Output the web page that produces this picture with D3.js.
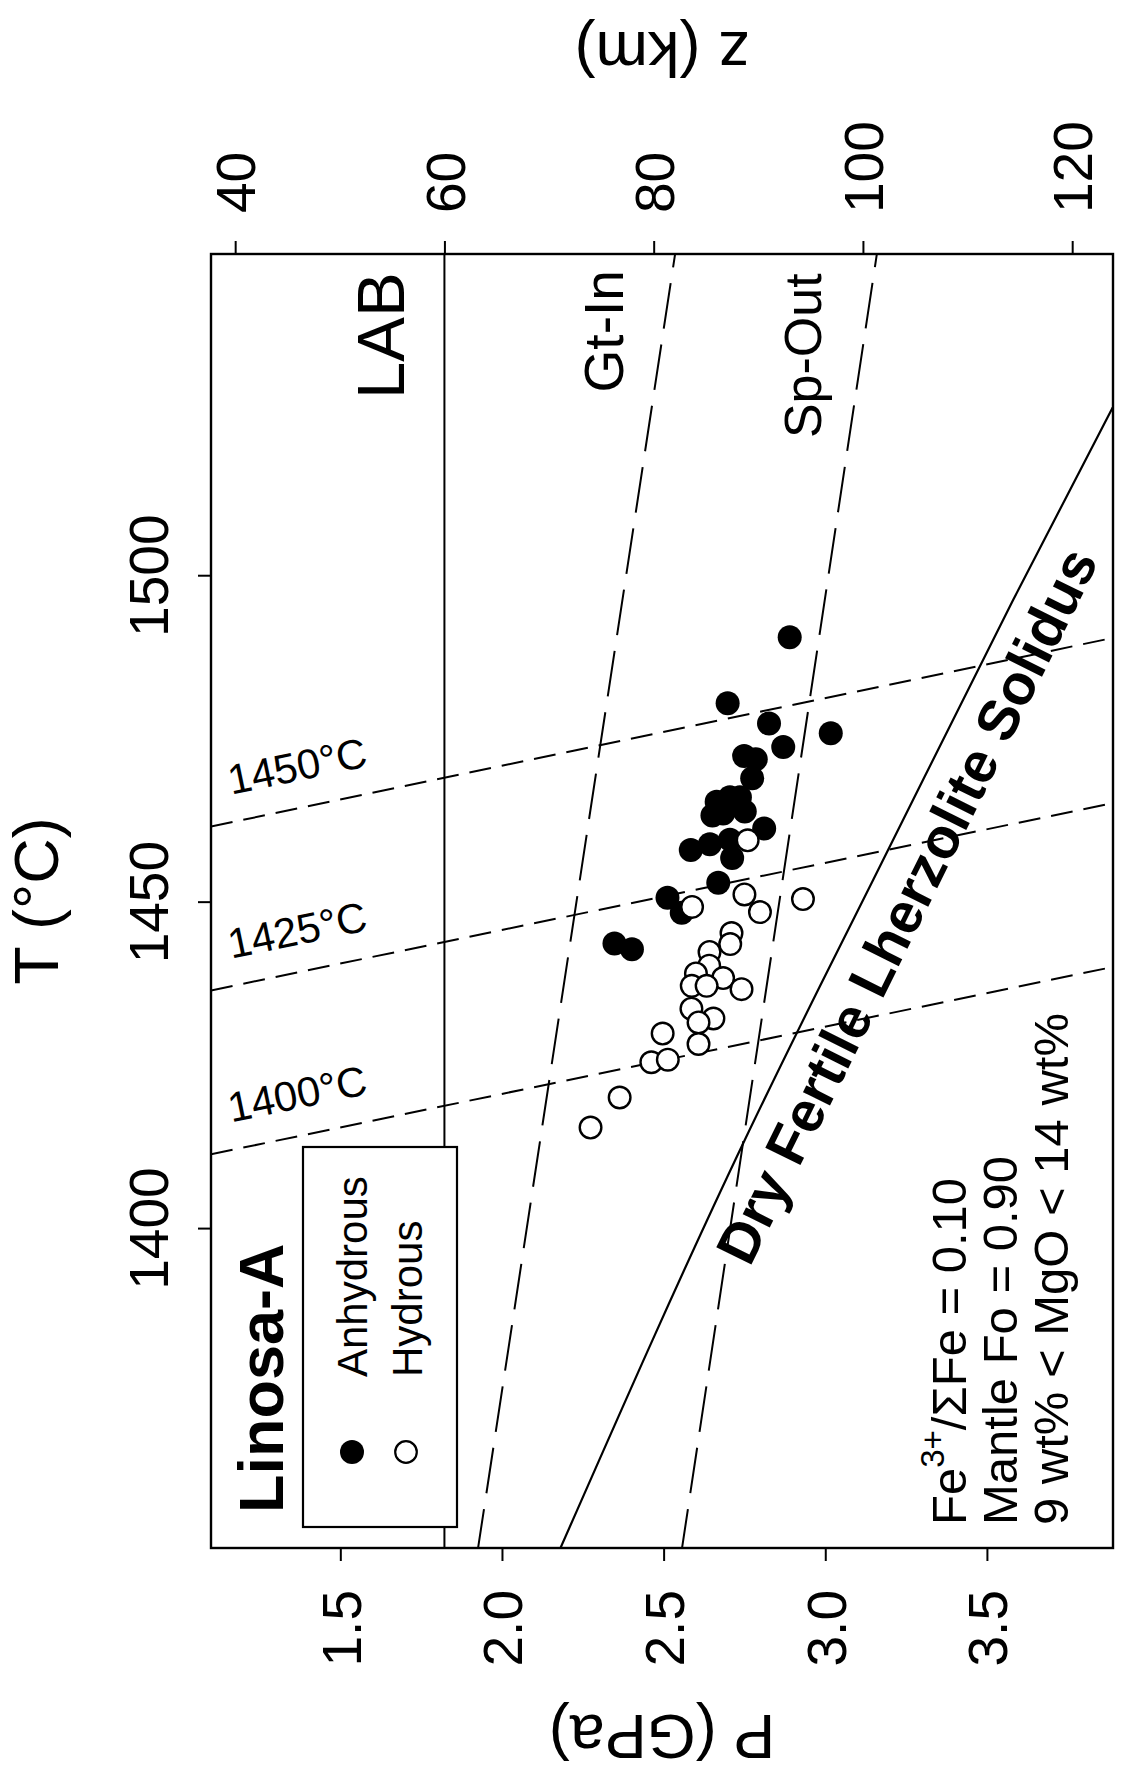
<!DOCTYPE html>
<html>
<head>
<meta charset="utf-8">
<script src="https://cdn.jsdelivr.net/npm/d3@7"></script>
<style>
  body { margin: 0; background: #fff; }
  svg text { font-family: 'Liberation Sans', Arial, Helvetica, sans-serif; fill: #000; }
</style>
</head>
<body>
<svg id="chart" width="1124" height="1778"></svg>
<script>
// axis ticks
const pTicks = [1.5, 2.0, 2.5, 3.0, 3.5];
const tTicks = [1400, 1450, 1500];
const zTicks = [40, 60, 80, 100, 120];

// depth conversion for the top axis: z (km) = offset + perGPa * P
const depthOffset = 3.7;
const depthPerGPa = 30.9;
const labDepth = 60;

// phase boundaries: P (GPa) at the two ends of the T range
const boundaryT = [1350, 1550];
const gtInP = [1.923, 2.538];
const spOutP = [2.554, 3.162];

// dry fertile lherzolite solidus
const solidusP = [2.181, 2.751, 2.983, 3.148, 3.581, 3.889];
const solidusT = [1351.0, 1413.5, 1437.0, 1453.3, 1496.2, 1525.7];

// mantle adiabats (potential temperature labels)
const adiabatLabels = ['1400°C', '1425°C', '1450°C'];
const adiabatP = [1.1, 3.89];
const adiabatT = [[1411.3, 1440.0], [1436.4, 1465.1], [1461.5, 1490.4]];

// Linosa-A samples
const anhydrousP = [2.890, 2.698, 2.826, 3.017, 2.870, 2.749, 2.785, 2.774, 2.664, 2.705,
  2.736, 2.651, 2.684, 2.751, 2.811, 2.584, 2.643, 2.705, 2.712, 2.669,
  2.512, 2.556, 2.348, 2.402];
const anhydrousT = [1490.5, 1480.4, 1477.3, 1475.8, 1473.7, 1472.3, 1471.8, 1468.9, 1465.3, 1466.0,
  1466.0, 1463.2, 1463.5, 1463.8, 1461.2, 1457.9, 1458.8, 1459.5, 1456.7, 1452.9,
  1450.6, 1448.3, 1443.6, 1442.7];

const hydrousP = [2.760, 2.588, 2.750, 2.798, 2.931, 2.710, 2.706, 2.642, 2.641, 2.600,
  2.684, 2.587, 2.633, 2.741, 2.586, 2.654, 2.608, 2.497, 2.608, 2.462,
  2.513, 2.364, 2.274];
const hydrousT = [1459.4, 1449.2, 1451.1, 1448.4, 1450.4, 1445.2, 1443.5, 1442.3, 1440.2, 1439.0,
  1438.3, 1437.1, 1437.1, 1436.6, 1433.6, 1432.1, 1431.5, 1429.8, 1428.2, 1425.4,
  1425.8, 1420.0, 1415.4];

const legendLabels = ['Anhydrous', 'Hydrous'];

const svg = d3.select('#chart');
svg.append('rect').attr('width', 1124).attr('height', 1778).attr('fill', '#fff');

const box = { left: 211, right: 1113, top: 254, bottom: 1548 };
const pDomain = [1.1, 3.89];

const x = d3.scaleLinear().domain(pDomain).range([box.left, box.right]);
const y = d3.scaleLinear().domain([1351, 1549.2]).range([box.bottom, box.top]);
const z = d3.scaleLinear()
  .domain(pDomain.map(p => depthOffset + depthPerGPa * p))
  .range([box.left, box.right]);

const tickFont = 55;

// clip for everything drawn inside the frame
svg.append('clipPath').attr('id', 'plot-clip')
  .append('rect')
  .attr('x', box.left).attr('y', box.top)
  .attr('width', box.right - box.left).attr('height', box.bottom - box.top);

const plot = svg.append('g').attr('clip-path', 'url(#plot-clip)');

// LAB
const labP = (labDepth - depthOffset) / depthPerGPa;
plot.append('line')
  .attr('x1', x(labP)).attr('x2', x(labP))
  .attr('y1', box.top).attr('y2', box.bottom)
  .attr('stroke', '#000').attr('stroke-width', 2);

// Gt-In and Sp-Out boundaries
[gtInP, spOutP].forEach(ps => {
  plot.append('line')
    .attr('x1', x(ps[0])).attr('y1', y(boundaryT[0]))
    .attr('x2', x(ps[1])).attr('y2', y(boundaryT[1]))
    .attr('stroke', '#000').attr('stroke-width', 2)
    .attr('stroke-dasharray', '46 16');
});

// adiabats
adiabatT.forEach(ts => {
  plot.append('line')
    .attr('x1', x(adiabatP[0])).attr('y1', y(ts[0]))
    .attr('x2', x(adiabatP[1])).attr('y2', y(ts[1]))
    .attr('stroke', '#000').attr('stroke-width', 2)
    .attr('stroke-dasharray', '22 11');
});

// solidus
const solidus = solidusP.map((p, i) => [p, solidusT[i]]);
plot.append('path')
  .datum(solidus)
  .attr('d', d3.line().x(d => x(d[0])).y(d => y(d[1])).curve(d3.curveMonotoneX))
  .attr('fill', 'none')
  .attr('stroke', '#000').attr('stroke-width', 2.2);

// samples: anhydrous (filled) first, hydrous (open) over them
plot.selectAll('circle.anhydrous')
  .data(anhydrousP.map((p, i) => [p, anhydrousT[i]]))
  .join('circle')
  .attr('class', 'anhydrous')
  .attr('cx', d => x(d[0])).attr('cy', d => y(d[1]))
  .attr('r', 12)
  .attr('fill', '#000');

plot.selectAll('circle.hydrous')
  .data(hydrousP.map((p, i) => [p, hydrousT[i]]))
  .join('circle')
  .attr('class', 'hydrous')
  .attr('cx', d => x(d[0])).attr('cy', d => y(d[1]))
  .attr('r', 10.8)
  .attr('fill', '#fff')
  .attr('stroke', '#000').attr('stroke-width', 2.4);

// frame
svg.append('rect')
  .attr('x', box.left).attr('y', box.top)
  .attr('width', box.right - box.left).attr('height', box.bottom - box.top)
  .attr('fill', 'none').attr('stroke', '#000').attr('stroke-width', 2.4);

// axes
const styleAxis = g => {
  g.select('.domain').remove();
  g.selectAll('.tick line').attr('stroke', '#000').attr('stroke-width', 2);
  g.selectAll('.tick text').attr('font-size', tickFont).attr('fill', '#000');
};

svg.append('g')
  .attr('transform', `translate(0,${box.bottom})`)
  .call(d3.axisBottom(x).tickValues(pTicks).tickSize(13).tickFormat(d3.format('.1f')))
  .call(styleAxis)
  .call(g => g.selectAll('.tick text')
    .attr('transform', 'rotate(-90)')
    .attr('x', -42).attr('y', 0).attr('dy', '0.36em')
    .attr('text-anchor', 'end'));

svg.append('g')
  .attr('transform', `translate(0,${box.top})`)
  .call(d3.axisTop(z).tickValues(zTicks).tickSize(13).tickFormat(d3.format('d')))
  .call(styleAxis)
  .call(g => g.selectAll('.tick text')
    .attr('transform', 'rotate(-90)')
    .attr('x', 41).attr('y', 0).attr('dy', '0.36em')
    .attr('text-anchor', 'start'));

svg.append('g')
  .attr('transform', `translate(${box.left},0)`)
  .call(d3.axisLeft(y).tickValues(tTicks).tickSize(13).tickFormat(d3.format('d')))
  .call(styleAxis)
  .call(g => g.selectAll('.tick text')
    .attr('x', 0).attr('y', 0).attr('dy', 0)
    .attr('transform', 'translate(-43,0) rotate(-90)')
    .attr('text-anchor', 'middle'));

// axis titles
const midX = (box.left + box.right) / 2;
const midY = (box.top + box.bottom) / 2;
svg.append('text')
  .attr('transform', `translate(58,${midY}) rotate(-90)`)
  .attr('text-anchor', 'middle').attr('font-size', 63)
  .text('T (°C)');
svg.append('text')
  .attr('transform', `translate(${midX},1715) rotate(180)`)
  .attr('text-anchor', 'middle').attr('font-size', 63)
  .text('P (GPa)');
svg.append('text')
  .attr('transform', `translate(${midX},32) rotate(180)`)
  .attr('text-anchor', 'middle').attr('font-size', 63)
  .text('z (km)');

// labels inside the frame (rotated like the plot)
const vlabel = (px, py, txt, size, weight) => svg.append('text')
  .attr('transform', `translate(${px},${py}) rotate(-90)`)
  .attr('font-size', size)
  .attr('font-weight', weight || 'normal')
  .text(txt);

const lineP = (ps, t) => ps[0] + (ps[1] - ps[0]) * (t - boundaryT[0]) / (boundaryT[1] - boundaryT[0]);

vlabel(x(labP) - 40, y(1527), 'LAB', 67);
vlabel(x(lineP(gtInP, 1528)) - 31, y(1528), 'Gt-In', 55);
vlabel(x(lineP(spOutP, 1521)) - 28, y(1521), 'Sp-Out', 52);
vlabel(283, 1513, 'Linosa-A', 63, 'bold');

// adiabat labels, tilted along their lines
adiabatT.forEach((ts, i) => {
  const ang = Math.atan2(y(ts[1]) - y(ts[0]), x(adiabatP[1]) - x(adiabatP[0])) * 180 / Math.PI;
  const p0 = 1.18;
  const t0 = ts[0] + (ts[1] - ts[0]) * (p0 - adiabatP[0]) / (adiabatP[1] - adiabatP[0]);
  svg.append('text')
    .attr('transform', `translate(${x(p0)},${y(t0)}) rotate(${ang})`)
    .attr('y', -27)
    .attr('font-size', 42)
    .text(adiabatLabels[i]);
});

// solidus label
{
  const pa = 2.6, pb = 3.8;
  const interp = p => {
    const i = Math.max(1, d3.bisectLeft(solidusP, p));
    const f = (p - solidusP[i - 1]) / (solidusP[i] - solidusP[i - 1]);
    return solidusT[i - 1] + f * (solidusT[i] - solidusT[i - 1]);
  };
  const ax = x(pa), ay = y(interp(pa)), bx = x(pb), by = y(interp(pb));
  const ang = Math.atan2(by - ay, bx - ax) * 180 / Math.PI;
  svg.append('text')
    .attr('transform', `translate(${ax},${ay}) rotate(${ang})`)
    .attr('x', 6).attr('y', 57)
    .attr('font-size', 57).attr('font-weight', 'bold')
    .text('Dry Fertile Lherzolite Solidus');
}

// legend
const legend = svg.append('g');
legend.append('rect')
  .attr('x', 303).attr('y', 1147).attr('width', 154).attr('height', 380)
  .attr('fill', '#fff').attr('stroke', '#000').attr('stroke-width', 2.2);
legend.append('circle').attr('cx', 352).attr('cy', 1452).attr('r', 12).attr('fill', '#000');
legend.append('circle').attr('cx', 406).attr('cy', 1452).attr('r', 10.8)
  .attr('fill', '#fff').attr('stroke', '#000').attr('stroke-width', 2.2);
legendLabels.forEach((lab, i) => vlabel(367 + i * 55, 1377, lab, 42));

// model parameters
const notes = svg.append('g').attr('font-size', 49);
const n1 = notes.append('text').attr('transform', 'translate(966,1525) rotate(-90)');
n1.append('tspan').text('Fe');
n1.append('tspan').attr('font-size', 33).attr('dy', -22).text('3+');
n1.append('tspan').attr('dy', 22).text('/ΣFe = 0.10');
notes.append('text').attr('transform', 'translate(1017,1525) rotate(-90)').text('Mantle Fo = 0.90');
notes.append('text').attr('transform', 'translate(1068,1525) rotate(-90)').text('9 wt% < MgO < 14 wt%');
</script>
</body>
</html>
